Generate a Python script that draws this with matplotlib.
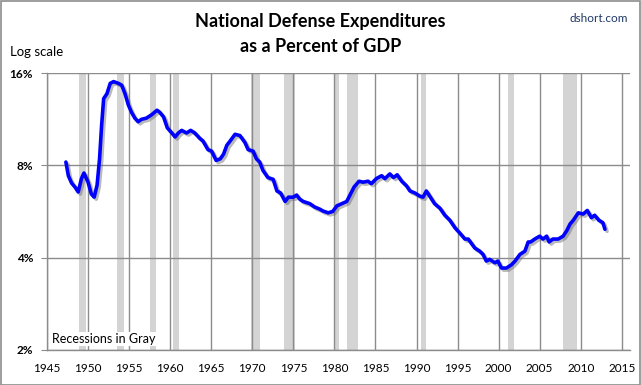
import matplotlib
matplotlib.use("Agg")
import matplotlib.pyplot as plt
import matplotlib.patheffects as pe
from matplotlib.patches import Rectangle

# ---- data ----
years = [1947.3, 1947.6, 1948.0, 1948.4, 1948.8, 1949.2, 1949.5, 1950.0, 1950.4, 1950.75,
         1951.1, 1951.4, 1951.65, 1951.9, 1952.3, 1952.7, 1953.1, 1953.7, 1954.1, 1954.5,
         1954.9, 1955.3, 1955.7, 1956.1, 1956.5, 1957.1, 1957.75, 1958.4, 1958.75, 1959.2,
         1959.65, 1960.2, 1960.6, 1961.0, 1961.4, 1962.0, 1962.5, 1963.0, 1963.6, 1964.0,
         1964.6, 1965.05, 1965.6, 1966.1, 1966.5, 1966.9, 1967.3, 1967.9, 1968.5, 1969.1,
         1969.5, 1970.1, 1970.5, 1970.9, 1971.3, 1971.9, 1972.55, 1973.0, 1973.45, 1974.0,
         1974.4, 1975.0, 1975.4, 1975.8, 1976.2, 1977.0, 1977.6, 1978.2, 1978.6, 1979.25,
         1979.8, 1980.3, 1980.9, 1981.5, 1981.9, 1982.4, 1983.0, 1983.5, 1984.1, 1984.5,
         1985.1, 1985.75, 1986.15, 1986.75, 1987.2, 1987.65, 1988.2, 1988.8, 1989.2, 1989.8,
         1990.4, 1990.8, 1991.2, 1991.6, 1992.2, 1992.85, 1993.45, 1994.05, 1994.7, 1995.3,
         1995.9, 1996.3, 1996.7, 1997.1, 1997.7, 1998.1, 1998.5, 1998.9, 1999.55, 1999.9,
         2000.35, 2000.95, 2001.6, 2002.0, 2002.6, 2003.2, 2003.6, 2003.9, 2004.4, 2005.0,
         2005.4, 2005.85, 2006.15, 2006.6, 2007.25, 2007.85, 2008.3, 2008.7, 2009.1, 2009.7,
         2010.3, 2010.8, 2011.3, 2011.7, 2012.2, 2012.7, 2012.95]
defense_pct = [8.2, 7.4, 7.0, 6.8, 6.55, 7.25, 7.55, 7.05, 6.45, 6.3,
               6.9, 8.4, 10.8, 13.2, 13.7, 14.8, 15.0, 14.8, 14.6, 13.7,
               12.6, 11.9, 11.4, 11.1, 11.3, 11.4, 11.7, 12.1, 11.9, 11.5,
               10.6, 10.2, 9.9, 10.2, 10.4, 10.2, 10.4, 10.2, 9.8, 9.6,
               9.0, 8.9, 8.3, 8.4, 8.7, 9.3, 9.6, 10.1, 10.0, 9.5,
               9.0, 8.9, 8.4, 8.2, 7.7, 7.3, 7.2, 6.6, 6.5, 6.1,
               6.3, 6.3, 6.4, 6.2, 6.1, 6.0, 5.85, 5.76, 5.68, 5.6,
               5.66, 5.9, 6.0, 6.1, 6.4, 6.8, 7.1, 7.05, 7.1, 6.97,
               7.24, 7.4, 7.24, 7.5, 7.3, 7.45, 7.1, 6.85, 6.6, 6.5,
               6.35, 6.3, 6.6, 6.35, 6.0, 5.8, 5.5, 5.3, 5.0, 4.8,
               4.6, 4.6, 4.45, 4.3, 4.2, 4.1, 3.9, 3.95, 3.85, 3.9,
               3.7, 3.7, 3.8, 3.9, 4.1, 4.2, 4.5, 4.5, 4.6, 4.7,
               4.6, 4.7, 4.5, 4.6, 4.6, 4.7, 4.9, 5.15, 5.3, 5.6,
               5.55, 5.7, 5.4, 5.5, 5.3, 5.2, 4.95]

recession_start = [1948.9, 1953.5, 1957.6, 1960.3, 1969.9, 1973.9, 1980.0, 1981.5, 1990.5, 2001.2, 2007.9]
recession_end   = [1949.8, 1954.4, 1958.3, 1961.1, 1970.9, 1975.2, 1980.5, 1982.9, 1991.2, 2001.9, 2009.5]

x_ticks = list(range(1945, 2016, 5))
y_ticks = [2, 4, 8, 16]
y_tick_labels = ["2%", "4%", "8%", "16%"]

FONT = "Lato"
GRID = "#8c8c8c"

fig = plt.figure(figsize=(6.41, 3.85), dpi=100)
ax = fig.add_axes([47 / 641, 1 - 350 / 385, (630 - 47) / 641, (350 - 73) / 385])

for s, e in zip(recession_start, recession_end):
    ax.axvspan(s, e, color="#d4d4d4", lw=0, zorder=0.5)

for xt in x_ticks:
    ax.axvline(xt, color=GRID, lw=1, zorder=1)
for yt in y_ticks:
    ax.axhline(yt, color=GRID, lw=1, zorder=1)

ax.plot(years, defense_pct, color="#0000ff", lw=2.6, zorder=3, solid_capstyle="round",
        path_effects=[pe.SimpleLineShadow(offset=(1.5, -1.5), shadow_color="#666666", alpha=0.45),
                      pe.Normal()])

ax.set_yscale("log", base=2)
ax.set_ylim(2, 16)
ax.set_xlim(1945, 2016)
ax.set_yticks(y_ticks)
ax.set_yticklabels(y_tick_labels)
ax.minorticks_off()
ax.set_xticks(x_ticks)
ax.set_xticklabels([str(x) for x in x_ticks])

for sp in ["top", "right"]:
    ax.spines[sp].set_visible(False)
for sp in ["left", "bottom"]:
    ax.spines[sp].set_color(GRID)
    ax.spines[sp].set_linewidth(1)

ax.tick_params(axis="y", length=4, color=GRID, pad=6, labelsize=8.5)
ax.tick_params(axis="x", length=0, pad=9, labelsize=8.5)
for lab in ax.get_yticklabels():
    lab.set_fontfamily(FONT)
    lab.set_fontweight("bold")
for lab in ax.get_xticklabels():
    lab.set_fontfamily(FONT)

ax.text(1945.6, 2.0 * 2 ** (11 / 92.5), "Recessions in Gray", fontsize=9, family=FONT,
        va="center", ha="left", zorder=4,
        bbox=dict(facecolor="white", edgecolor="none", pad=0.5))

fig.text(0.5, 1 - 22 / 385, "National Defense Expenditures", ha="center", va="center",
         fontsize=13, fontweight="bold", family=FONT)
fig.text(0.5, 1 - 46 / 385, "as a Percent of GDP", ha="center", va="center",
         fontsize=13, fontweight="bold", family=FONT)
fig.text(10 / 641, 1 - 52 / 385, "Log scale", ha="left", va="center", fontsize=9.5, family=FONT)
fig.text(628 / 641, 1 - 18 / 385, "dshort.com", ha="right", va="center", fontsize=8.5,
         family=FONT, color="#1f3864")

fig.patches.append(Rectangle((0.5 / 641, 0.5 / 385), 639.5 / 641, 383.5 / 385, transform=fig.transFigure,
                             fill=False, edgecolor="#8c8c8c", lw=1.2))

fig.savefig("out.png", dpi=100, facecolor="white")
